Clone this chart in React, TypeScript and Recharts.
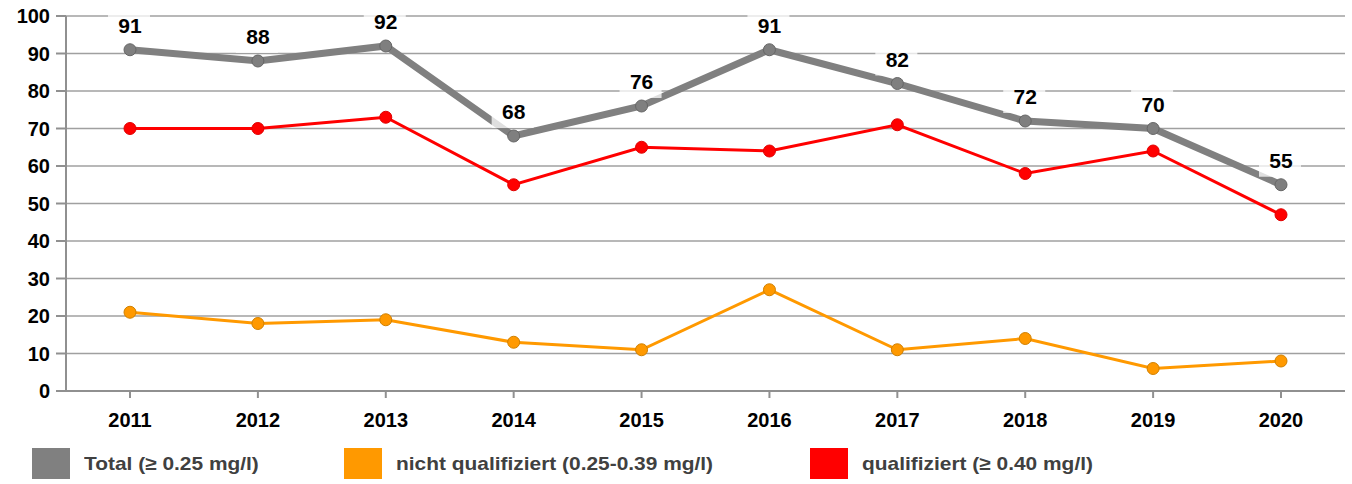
import { LineChart, Line, XAxis, YAxis, CartesianGrid, LabelList, Legend } from "recharts";

const years = ["2011", "2012", "2013", "2014", "2015", "2016", "2017", "2018", "2019", "2020"];
const total = [91, 88, 92, 68, 76, 91, 82, 72, 70, 55];
const nichtQualifiziert = [21, 18, 19, 13, 11, 27, 11, 14, 6, 8];
const qualifiziert = [70, 70, 73, 55, 65, 64, 71, 58, 64, 47];
const yTicks = [0, 10, 20, 30, 40, 50, 60, 70, 80, 90, 100];

const legendItems = [
  { label: "Total (≥ 0.25 mg/l)", color: "#808080", left: 32 },
  { label: "nicht qualifiziert (0.25-0.39 mg/l)", color: "#ff9900", left: 344 },
  { label: "qualifiziert (≥ 0.40 mg/l)", color: "#ff0000", left: 810 },
];

const data = years.map((year, i) => ({
  year,
  total: total[i],
  nicht: nichtQualifiziert[i],
  qual: qualifiziert[i],
}));

const FONT = "'Liberation Sans', Arial, sans-serif";

function TotalLabel(props: any) {
  const { x, y, value } = props;
  return (
    <g>
      <rect x={x - 22} y={y - 40} width={42} height={32} fill="#fff" fillOpacity={0.75} />
      <text x={x} y={y - 17} textAnchor="middle" fontSize={21} fontWeight="bold" fill="#000" fontFamily={FONT}>
        {value}
      </text>
    </g>
  );
}

function LegendBox() {
  return (
    <div style={{ position: "relative", width: 1352, height: 36 }}>
      {legendItems.map((it) => (
        <div key={it.label} style={{ position: "absolute", left: it.left, top: 0, display: "flex", alignItems: "center" }}>
          <div style={{ width: 38, height: 31, background: it.color }} />
          <span
            style={{
              marginLeft: 14,
              fontSize: 19,
              fontWeight: "bold",
              color: "#404040",
              fontFamily: FONT,
              whiteSpace: "nowrap",
              display: "inline-block",
              transform: "scaleX(1.1)",
              transformOrigin: "left center",
            }}
          >
            {it.label}
          </span>
        </div>
      ))}
    </div>
  );
}

export default function App() {
  return (
    <div style={{ position: "absolute", left: 0, top: 0, width: 1352, height: 484, background: "#fff" }}>
      <LineChart width={1352} height={484} data={data} margin={{ top: 16, right: 7, bottom: 0, left: 0 }}>
        <CartesianGrid horizontal vertical={false} stroke="#a0a0a0" strokeWidth={1.5} />
        <XAxis
          dataKey="year"
          height={57}
          padding={{ left: 64, right: 64 }}
          tickSize={7}
          tickMargin={15}
          axisLine={{ stroke: "#909090", strokeWidth: 2 }}
          tickLine={{ stroke: "#909090", strokeWidth: 2 }}
          tick={{ fill: "#000", fontSize: 20, fontWeight: "bold", fontFamily: FONT }}
        />
        <YAxis
          domain={[0, 100]}
          ticks={yTicks}
          width={66}
          tickSize={10}
          tickMargin={6}
          interval={0}
          axisLine={{ stroke: "#909090", strokeWidth: 2 }}
          tickLine={{ stroke: "#909090", strokeWidth: 2 }}
          tick={{ fill: "#000", fontSize: 20, fontWeight: "bold", fontFamily: FONT }}
        />
        <Legend verticalAlign="bottom" height={36} wrapperStyle={{ left: 0, bottom: 0 }} content={() => <LegendBox />} />
        <Line
          dataKey="nicht"
          stroke="#ff9900"
          strokeWidth={3}
          dot={{ r: 6, fill: "#ff9900", stroke: "#d08000", strokeWidth: 1 }}
          isAnimationActive={false}
        />
        <Line
          dataKey="qual"
          stroke="#ff0000"
          strokeWidth={3}
          dot={{ r: 6, fill: "#ff0000", stroke: "#e00000", strokeWidth: 1 }}
          isAnimationActive={false}
        />
        <Line
          dataKey="total"
          stroke="#808080"
          strokeWidth={7}
          dot={{ r: 6, fill: "#7f7f7f", stroke: "#666", strokeWidth: 1 }}
          isAnimationActive={false}
        >
          <LabelList dataKey="total" content={TotalLabel} />
        </Line>
      </LineChart>
    </div>
  );
}
